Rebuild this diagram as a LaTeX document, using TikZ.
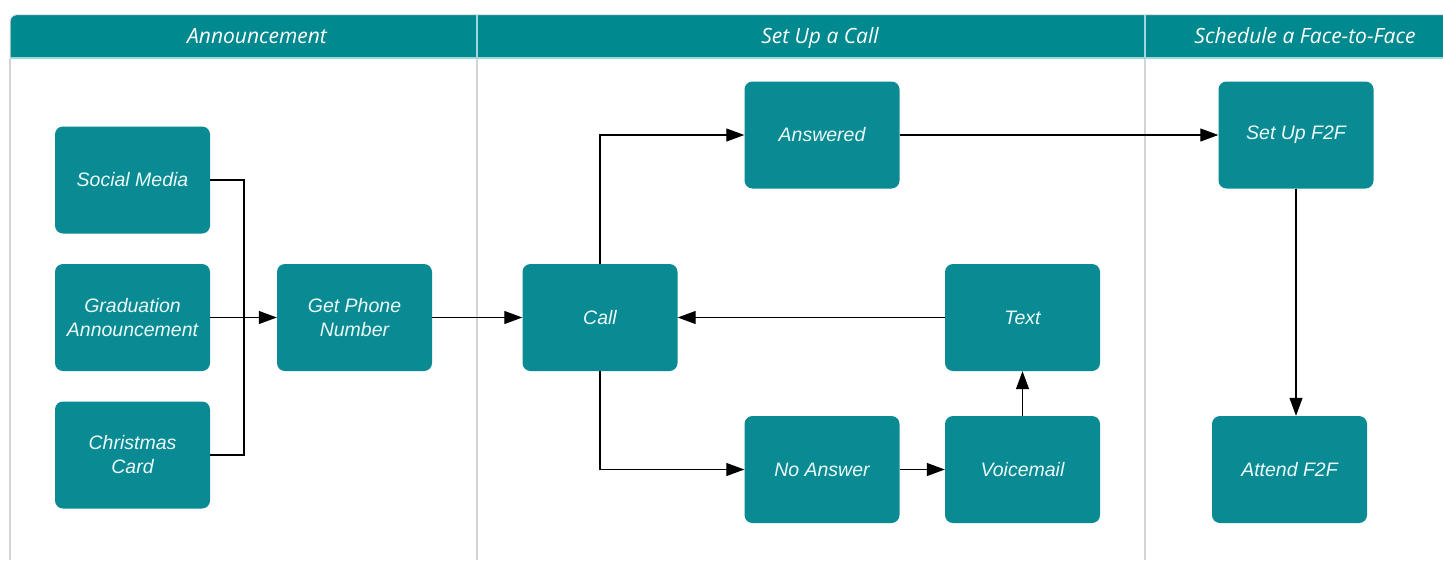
\documentclass[tikz,border=0pt]{standalone}
\usepackage{fontspec}
\setmainfont{Liberation Sans}
\newfontfamily\headfont{Open Sans}
\usetikzlibrary{arrows.meta}
\definecolor{headteal}{RGB}{0,137,143}
\definecolor{boxteal}{RGB}{10,138,146}
\definecolor{lanegray}{RGB}{212,212,212}
\definecolor{sepcyan}{RGB}{160,215,218}
\definecolor{boxtext}{RGB}{235,250,250}
\begin{document}
\begin{tikzpicture}[x=1pt,y=-1pt,
  box/.style={draw=none, fill=boxteal, rounded corners=8pt, minimum width=155pt, minimum height=107pt,
    inner sep=0pt, align=center, text=boxtext, font=\fontsize{19.5}{24}\selectfont\itshape},
  conn/.style={draw=black, line width=1.1pt, -{Triangle[length=18pt,width=13pt]}},
  plainline/.style={draw=black, line width=1.1pt},
  lanehead/.style={text=white, inner sep=0pt, anchor=base, font=\headfont\fontsize{21}{25}\selectfont\itshape},
  laneline/.style={draw=lanegray, line width=1.6pt},
  sepline/.style={draw=sepcyan, line width=1.6pt}]
\useasboundingbox (0,0) rectangle (1443,560);
\clip (0,0) rectangle (1443,560);
\fill[white] (0,0) rectangle (1443,560);
% header band
\fill[headteal] (10,58) [rounded corners=7pt] -- (10,15) -- (1470,15) [sharp corners] -- (1470,58) -- cycle;
\draw[lanegray!70, line width=1pt] (10,58) [rounded corners=7pt] -- (10,14.5) -- (1470,14.5);
\draw[sepline] (10,58) -- (1443,58);
\draw[sepline] (477,15) -- (477,58);
\draw[sepline] (1145,15) -- (1145,58);
% lane lines
\draw[laneline] (10,59) -- (10,560);
\draw[laneline] (477,59) -- (477,560);
\draw[laneline] (1145,59) -- (1145,560);
% headers
\node[lanehead] (h1) at (257,43) {Announcement};
\node[lanehead] (h2) at (820,43) {Set Up a Call};
\node[lanehead] (h3) at (1305,43) {Schedule a Face-to-Face};
% boxes
\node[box] (sm) at (132.5,180) {Social Media};
\node[box] (grad) at (132.5,317.5) {Graduation\\Announcement};
\node[box] (xmas) at (132.5,455) {Christmas\\Card};
\node[box] (gpn) at (354.5,317.5) {Get Phone\\Number};
\node[box] (call) at (600,317.5) {Call};
\node[box] (ans) at (822,135) {Answered};
\node[box] (txt) at (1022.5,317.5) {Text};
\node[box] (na) at (822,469.5) {No Answer};
\node[box] (vm) at (1022.5,469.5) {Voicemail};
\node[box] (sf) at (1296,135) {Set Up F2F};
\node[box] (af) at (1289.5,469.5) {Attend F2F};
% connectors
\coordinate (jn) at (244,317.5);
\draw[plainline] (sm.east) -| (jn);
\draw[plainline] (xmas.east) -| (jn);
\draw[conn] (grad.east) -- (gpn.west);
\draw[conn] (gpn.east) -- (call.west);
\draw[conn] (call.north) |- (ans.west);
\draw[conn] (call.south) |- (na.west);
\draw[conn] (na.east) -- (vm.west);
\draw[conn] (vm.north) -- (txt.south);
\draw[conn] (txt.west) -- (call.east);
\draw[conn] (ans.east) -- (sf.west);
\draw[conn] (sf.south) -- (sf.south |- af.north);
\end{tikzpicture}
\end{document}
